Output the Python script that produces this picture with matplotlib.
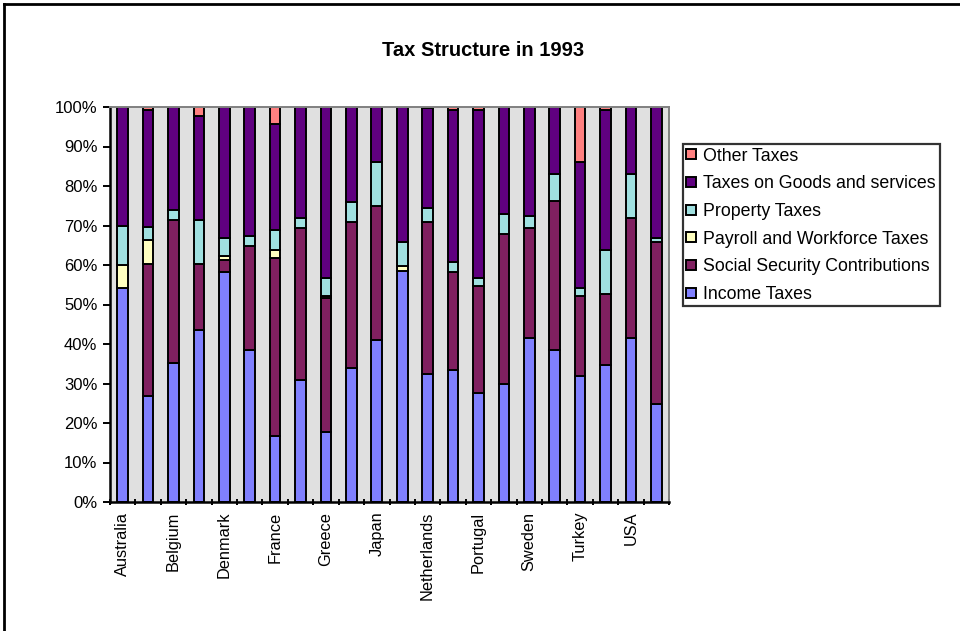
import matplotlib
matplotlib.use("Agg")
import matplotlib.pyplot as plt
import numpy as np
from matplotlib.lines import Line2D
from matplotlib.ticker import FixedLocator, PercentFormatter

plt.rcParams['font.family'] = ['Liberation Sans', 'DejaVu Sans']

# every other country is labelled on the axis, as in the original
labels = ['Australia', '', 'Belgium', '', 'Denmark', '', 'France', '', 'Greece', '',
          'Japan', '', 'Netherlands', '', 'Portugal', '', 'Sweden', '', 'Turkey', '',
          'USA', '']

income = [54.1, 26.8, 35.3, 43.5, 58.2, 38.5, 16.7, 30.9, 17.6, 33.8, 41.0,
          58.6, 32.4, 33.4, 27.7, 29.8, 41.4, 38.5, 31.9, 34.8, 41.4, 24.8]
social = [0.0, 33.5, 36.1, 16.8, 3.1, 26.4, 45.1, 38.4, 34.1, 37.0, 34.0,
          0.0, 38.4, 24.8, 27.0, 38.1, 27.9, 37.6, 20.3, 17.9, 30.6, 41.1]
payroll = [5.8, 6.1, 0.0, 0.0, 1.0, 0.0, 2.0, 0.0, 0.5, 0.0, 0.0,
           1.2, 0.0, 0.0, 0.0, 0.0, 0.0, 0.0, 0.0, 0.0, 0.0, 0.0]
property_ = [10.0, 3.1, 2.6, 11.1, 4.6, 2.5, 5.1, 2.7, 4.4, 5.1, 11.0,
             6.0, 3.6, 2.5, 1.9, 5.0, 3.1, 7.0, 2.1, 11.1, 11.1, 1.0]
goods = [30.1, 29.8, 26.0, 26.4, 33.1, 32.6, 26.9, 28.0, 43.4, 24.1, 14.0,
         34.2, 25.3, 38.6, 42.7, 27.1, 27.6, 16.9, 31.9, 35.5, 16.9, 33.1]
other = [0.0, 0.7, 0.0, 2.2, 0.0, 0.0, 4.2, 0.0, 0.0, 0.0, 0.0,
         0.0, 0.3, 0.7, 0.7, 0.0, 0.0, 0.0, 13.8, 0.7, 0.0, 0.0]

series = [
    ('Income Taxes', income, '#8080FF'),
    ('Social Security Contributions', social, '#802060'),
    ('Payroll and Workforce Taxes', payroll, '#FFFFC0'),
    ('Property Taxes', property_, '#A0E0E0'),
    ('Taxes on Goods and services', goods, '#600080'),
    ('Other Taxes', other, '#FF8080'),
]

fig = plt.figure(figsize=(9.6, 6.31), dpi=100)
ax = fig.add_axes([110 / 960, 1 - 502 / 631, 559 / 960, 395 / 631])
ax.set_facecolor('#E0E0E0')

x = np.arange(len(labels))
bottom = np.zeros(len(labels))
handles = []
for name, vals, col in series:
    v = np.array(vals)
    ax.bar(x, v, 0.42, bottom=bottom, color=col, edgecolor='black', linewidth=1.4)
    bottom += v
    handles.append(Line2D([], [], marker='s', linestyle='none', markersize=7,
                          markerfacecolor=col, markeredgecolor='black',
                          markeredgewidth=1.4, label=name))

ax.set_xlim(-0.5, len(labels) - 0.5)
ax.set_ylim(0, 100)
ax.yaxis.set_major_locator(FixedLocator(np.arange(0, 101, 10)))
ax.yaxis.set_major_formatter(PercentFormatter(decimals=0))

# ticks on category boundaries, names in the middle
ax.xaxis.set_major_locator(FixedLocator(np.arange(-0.5, len(labels), 1)))
ax.set_xticklabels([])
ax.set_xticks(x, minor=True)
ax.set_xticklabels(labels, minor=True, rotation=90, fontsize=11.8)
ax.tick_params(axis='x', which='minor', length=0, pad=7)
ax.tick_params(axis='x', which='major', length=5, width=1.4, direction='inout')
ax.tick_params(axis='y', length=5, width=1.4, labelsize=12, pad=4)

for s in ['top', 'right']:
    ax.spines[s].set_color('#808080')
    ax.spines[s].set_linewidth(1.4)
for s in ['left', 'bottom']:
    ax.spines[s].set_color('black')
    ax.spines[s].set_linewidth(1.8)

fig.text(483 / 960, 1 - 50 / 631, 'Tax Structure in 1993', ha='center', va='center',
         fontsize=14.5, fontweight='bold')

leg = fig.legend(handles=handles[::-1], loc='upper left',
                 bbox_to_anchor=(683 / 960, 1 - 144 / 631), fontsize=12.8,
                 frameon=True, fancybox=False, handlelength=0.5, handletextpad=0.45,
                 labelspacing=0.6, borderpad=0.2, borderaxespad=0)
leg.get_frame().set_edgecolor('black')
leg.get_frame().set_linewidth(1.6)

# outer chart frame (top and left edges visible)
fig.add_artist(Line2D([4 / 960, 4 / 960], [0, 1 - 4 / 631], color='black',
                      linewidth=2, transform=fig.transFigure))
fig.add_artist(Line2D([4 / 960, 1], [1 - 4 / 631, 1 - 4 / 631], color='black',
                      linewidth=2, transform=fig.transFigure))

fig.savefig('out.png', dpi=100)
